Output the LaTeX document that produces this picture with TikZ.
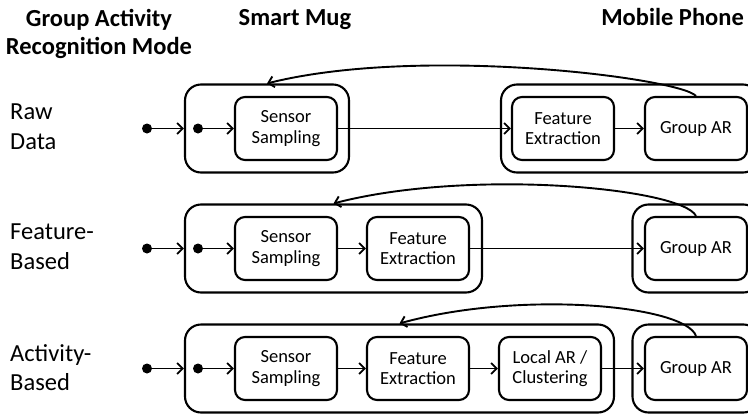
\documentclass[tikz,border=0pt]{standalone}
\usepackage{fontspec}
\setmainfont{Carlito}
\usetikzlibrary{arrows.meta}
\begin{document}
\begin{tikzpicture}[x=1pt,y=-1pt,
  inbox/.style={draw, line width=2.1pt, rounded corners=10pt, minimum width=102pt,
    minimum height=63pt, inner sep=0pt, align=center, font=\fontsize{18.5}{20.5}\selectfont},
  outbox/.style={draw, line width=2.1pt, rounded corners=16pt, minimum height=88pt, inner sep=0pt},
  dot/.style={circle, fill, inner sep=0pt, minimum size=10pt},
  conn/.style={line width=1.9pt, -{Straight Barb[length=5.5pt,width=11pt]}},
  rowlabel/.style={anchor=north west, align=left, inner sep=0pt, font=\fontsize{24.5}{29.5}\selectfont},
  head/.style={inner sep=0pt, font=\bfseries\fontsize{24.5}{28}\selectfont, align=center}]
\useasboundingbox (0,0) rectangle (748,413);
\clip (0,0) rectangle (748,413);

% headers
\node[head, anchor=north] (hmode) at (99,9.5) {Group Activity\\Recognition Mode};
\node[head, anchor=base] (hmug) at (295,25) {Smart Mug};
\node[head, anchor=base east] (hphone) at (744,25) {Mobile Phone};

% row labels
\node[rowlabel] (lraw) at (10,104) {Raw\\Data};
\node[rowlabel] (lfeat) at (10,224) {Feature-\\Based};
\node[rowlabel] (lact) at (10,344) {Activity-\\Based};

% ---- row 1: raw data
\node[outbox, minimum width=164pt] (r1mug) at (267,128.5) {};
\node[outbox, minimum width=258pt] (r1ph) at (630,128.5) {};
\node[inbox] (r1ss) at (286,128.5) {Sensor\\Sampling};
\node[inbox] (r1fe) at (563,128.5) {Feature\\Extraction};
\node[inbox] (r1gar) at (696,128.5) {Group AR};
\node[dot] (r1a) at (147,128.5) {};
\node[dot] (r1b) at (198,128.5) {};
\draw[conn] (r1a) -- (r1mug.west);
\draw[conn] (r1b) -- (r1ss.west);
\draw[conn] (r1ss.east) -- (r1fe.west);
\draw[conn] (r1fe.east) -- (r1gar.west);
\draw[conn] (r1gar.north) .. controls (680,78) and (420,45) .. (r1mug.north);

% ---- row 2: feature-based
\node[outbox, minimum width=297pt] (r2mug) at (333.5,248.5) {};
\node[outbox, minimum width=127pt] (r2ph) at (696,248.5) {};
\node[inbox] (r2ss) at (286,248.5) {Sensor\\Sampling};
\node[inbox] (r2fe) at (418,248.5) {Feature\\Extraction};
\node[inbox] (r2gar) at (696,248.5) {Group AR};
\node[dot] (r2a) at (147,248.5) {};
\node[dot] (r2b) at (198,248.5) {};
\draw[conn] (r2a) -- (r2mug.west);
\draw[conn] (r2b) -- (r2ss.west);
\draw[conn] (r2ss.east) -- (r2fe.west);
\draw[conn] (r2fe.east) -- (r2gar.west);
\draw[conn] (r2gar.north) .. controls (682,188) and (470,168) .. (r2mug.north);

% ---- row 3: activity-based
\node[outbox, minimum width=429pt] (r3mug) at (399.5,368.5) {};
\node[outbox, minimum width=127pt] (r3ph) at (696,368.5) {};
\node[inbox] (r3ss) at (286,368.5) {Sensor\\Sampling};
\node[inbox] (r3fe) at (418,368.5) {Feature\\Extraction};
\node[inbox] (r3loc) at (550,368.5) {Local AR /\\Clustering};
\node[inbox] (r3gar) at (696,368.5) {Group AR};
\node[dot] (r3a) at (147,368.5) {};
\node[dot] (r3b) at (198,368.5) {};
\draw[conn] (r3a) -- (r3mug.west);
\draw[conn] (r3b) -- (r3ss.west);
\draw[conn] (r3ss.east) -- (r3fe.west);
\draw[conn] (r3fe.east) -- (r3loc.west);
\draw[conn] (r3loc.east) -- (r3gar.west);
\draw[conn] (r3gar.north) .. controls (685,305) and (520,290) .. (r3mug.north);
\end{tikzpicture}
\end{document}
